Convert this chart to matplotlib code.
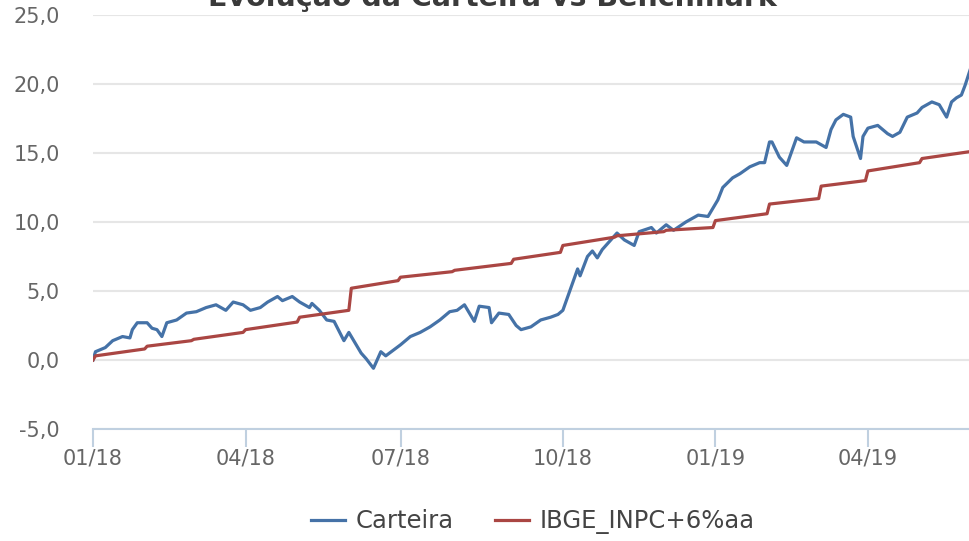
import matplotlib.pyplot as plt
from matplotlib.ticker import FuncFormatter

# dia util (desde 02/01/2018) e rentabilidade acumulada (%)
carteira_dia = [0, 1, 5, 8, 12, 15, 16, 18, 22, 24, 26, 28, 30, 34, 38, 42, 46, 50, 54, 57,
                61, 64, 68, 71, 75, 77, 81, 84, 88, 89, 92, 95, 98, 102, 104, 109, 111, 114,
                117, 119, 122, 125, 129, 133, 137, 141, 145, 148, 151, 153, 155, 157, 161,
                162, 165, 169, 172, 174, 178, 182, 186, 189, 191, 193, 196, 197, 198, 201,
                203, 205, 207, 210, 213, 216, 220, 222, 227, 229, 233, 236, 241, 246, 250,
                254, 256, 260, 263, 267, 271, 273, 275, 276, 279, 282, 286, 289, 294, 298,
                300, 302, 305, 308, 309, 312, 313, 315, 319, 323, 325, 328, 331, 335, 337,
                341, 344, 347, 349, 351, 353, 354.5, 356.5]
carteira = [0.0, 0.6, 0.9, 1.4, 1.7, 1.6, 2.2, 2.7, 2.7, 2.3, 2.2, 1.7, 2.7, 2.9, 3.4, 3.5,
            3.8, 4.0, 3.6, 4.2, 4.0, 3.6, 3.8, 4.2, 4.6, 4.3, 4.6, 4.2, 3.8, 4.1, 3.6, 2.9,
            2.8, 1.4, 2.0, 0.5, 0.1, -0.6, 0.6, 0.3, 0.7, 1.1, 1.7, 2.0, 2.4, 2.9, 3.5, 3.6,
            4.0, 3.4, 2.8, 3.9, 3.8, 2.7, 3.4, 3.3, 2.5, 2.2, 2.4, 2.9, 3.1, 3.3, 3.6, 4.6,
            6.1, 6.6, 6.1, 7.5, 7.9, 7.4, 8.0, 8.6, 9.2, 8.7, 8.3, 9.3, 9.6, 9.2, 9.8, 9.4,
            10.0, 10.5, 10.4, 11.6, 12.5, 13.2, 13.5, 14.0, 14.3, 14.3, 15.8, 15.8, 14.7,
            14.1, 16.1, 15.8, 15.8, 15.4, 16.7, 17.4, 17.8, 17.6, 16.2, 14.6, 16.2, 16.8,
            17.0, 16.4, 16.2, 16.5, 17.6, 17.9, 18.3, 18.7, 18.5, 17.6, 18.7, 19.0, 19.2,
            19.9, 21.0]

bench_dia = [0, 1, 21, 22, 40, 41, 61, 62, 83, 84, 104, 105, 124, 125, 146, 147, 170, 171,
             190, 191, 212, 213, 232, 233, 252, 253, 274, 275, 295, 296, 314, 315, 336, 337,
             356.5]
bench = [0.0, 0.3, 0.8, 1.0, 1.4, 1.5, 2.0, 2.2, 2.75, 3.1, 3.6, 5.2, 5.75, 6.0, 6.4, 6.5,
         7.0, 7.3, 7.8, 8.3, 8.9, 9.0, 9.3, 9.4, 9.6, 10.1, 10.6, 11.3, 11.7, 12.6, 13.0,
         13.7, 14.3, 14.6, 15.1]

tick_dias = [0, 62, 125, 191, 253, 315]
tick_labels = ['01/18', '04/18', '07/18', '10/18', '01/19', '04/19']

fig = plt.figure(figsize=(9.7, 5.41), dpi=100)
ax = fig.add_axes([93 / 970, 1 - 429 / 541, 1 - 93 / 970, (429 - 15) / 541])

ax.plot(carteira_dia, carteira, color='#4572A7', lw=2.3, label='Carteira', zorder=3)
ax.plot(bench_dia, bench, color='#AA4643', lw=2.3, label='IBGE_INPC+6%aa', zorder=3)

ax.set_xlim(0, 356.5)
ax.set_ylim(-5, 25)
ax.set_yticks(range(-5, 26, 5))
ax.yaxis.set_major_formatter(FuncFormatter(lambda v, p: f'{v:.1f}'.replace('.', ',')))
ax.set_xticks(tick_dias)
ax.set_xticklabels(tick_labels)

ax.grid(axis='y', color='#e6e6e6', lw=1.5)
ax.set_axisbelow(True)
for s in ['top', 'right', 'left']:
    ax.spines[s].set_visible(False)
ax.spines['bottom'].set_color('#C0D0E0')
ax.spines['bottom'].set_linewidth(1.5)
ax.spines['bottom'].set_zorder(4)

ax.tick_params(axis='y', length=0, pad=24, labelsize=15, labelcolor='#666666')
ax.tick_params(axis='x', length=13, width=1.5, color='#C0D0E0', pad=1,
               labelsize=15, labelcolor='#666666')

# titulo parcialmente cortado no topo, como na imagem original
fig.text(492 / 970, 1 - 6 / 541, 'Evolução da Carteira vs Benchmark', ha='center',
         va='baseline', fontsize=20.5, fontweight='bold', color='#3a3a3a')

fig.legend(loc='center', bbox_to_anchor=(533 / 970, 1 - 522 / 541), ncol=2,
           frameon=False, fontsize=17.5, handlelength=1.4, handletextpad=0.45,
           columnspacing=1.7, labelcolor='#444444')

fig.savefig('out.png', dpi=100)
